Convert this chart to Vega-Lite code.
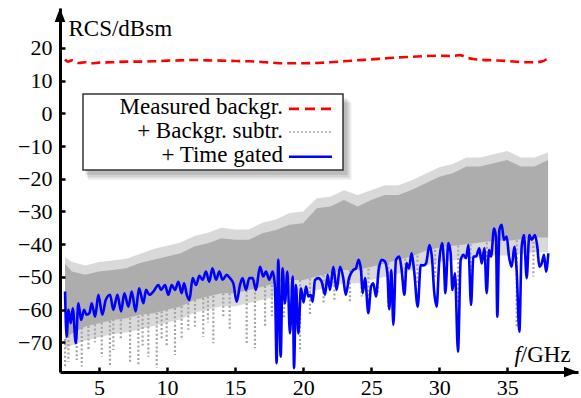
{
  "$schema": "https://vega.github.io/schema/vega-lite/v6.json",
  "width": 518,
  "height": 364,
  "autosize": {"type": "none"},
  "padding": {"left": 60, "top": 8, "right": 3, "bottom": 26},
  "background": "white",
  "config": {"view": {"stroke": null}, "font": "'Liberation Serif', 'Times New Roman', 'DejaVu Serif', serif"},
  "datasets": {
    "band": [
      {"f": 2.5, "top": -44, "hi": -46, "lo": -69, "bot": -72},
      {"f": 3, "top": -45.5, "hi": -48.4, "lo": -67.3, "bot": -71},
      {"f": 4, "top": -46.5, "hi": -49.4, "lo": -65.2, "bot": -69.5},
      {"f": 5, "top": -45.5, "hi": -48.4, "lo": -64.2, "bot": -68.5},
      {"f": 6, "top": -45, "hi": -47.9, "lo": -63.2, "bot": -67.5},
      {"f": 7, "top": -44.5, "hi": -47.4, "lo": -62.7, "bot": -67},
      {"f": 8, "top": -43, "hi": -45.8, "lo": -61.6, "bot": -66},
      {"f": 9, "top": -41.5, "hi": -44.8, "lo": -61.1, "bot": -65},
      {"f": 10, "top": -40.5, "hi": -43.8, "lo": -60.1, "bot": -64},
      {"f": 11, "top": -39.5, "hi": -42.8, "lo": -59.1, "bot": -63},
      {"f": 12, "top": -37.5, "hi": -40.7, "lo": -57.1, "bot": -61},
      {"f": 13, "top": -36.5, "hi": -39.7, "lo": -56, "bot": -60},
      {"f": 14, "top": -35, "hi": -38.2, "lo": -55, "bot": -59},
      {"f": 15, "top": -35.5, "hi": -38.7, "lo": -55, "bot": -59},
      {"f": 16, "top": -35.5, "hi": -38.7, "lo": -54, "bot": -58},
      {"f": 17, "top": -33.5, "hi": -36.7, "lo": -53, "bot": -57},
      {"f": 18, "top": -32.5, "hi": -35.7, "lo": -52, "bot": -56},
      {"f": 19, "top": -30.5, "hi": -34.1, "lo": -51, "bot": -55},
      {"f": 20, "top": -30, "hi": -33.6, "lo": -51, "bot": -55},
      {"f": 21, "top": -26, "hi": -29, "lo": -49.9, "bot": -54},
      {"f": 22, "top": -25.5, "hi": -28.5, "lo": -48.9, "bot": -53},
      {"f": 23, "top": -23.5, "hi": -26.5, "lo": -47.9, "bot": -52},
      {"f": 24, "top": -25, "hi": -28.5, "lo": -47.9, "bot": -52},
      {"f": 25, "top": -23.5, "hi": -26.5, "lo": -46.9, "bot": -51},
      {"f": 26, "top": -22, "hi": -25, "lo": -45.9, "bot": -50},
      {"f": 27, "top": -22, "hi": -25, "lo": -44.8, "bot": -49},
      {"f": 28, "top": -20.5, "hi": -23.4, "lo": -43.8, "bot": -48},
      {"f": 29, "top": -18.5, "hi": -21.4, "lo": -42, "bot": -46.5},
      {"f": 30, "top": -16.5, "hi": -19.4, "lo": -41, "bot": -45.5},
      {"f": 31, "top": -15.5, "hi": -18.3, "lo": -40.5, "bot": -45},
      {"f": 32, "top": -13.5, "hi": -16.3, "lo": -40, "bot": -44.5},
      {"f": 33, "top": -13.5, "hi": -16.3, "lo": -39.5, "bot": -44},
      {"f": 34, "top": -12.5, "hi": -15.3, "lo": -39, "bot": -43.5},
      {"f": 35, "top": -11.5, "hi": -14.3, "lo": -39, "bot": -43.5},
      {"f": 36, "top": -13.5, "hi": -16.3, "lo": -38.5, "bot": -43},
      {"f": 37, "top": -13.5, "hi": -16.3, "lo": -38, "bot": -42.5},
      {"f": 38, "top": -12, "hi": -14.3, "lo": -38, "bot": -42.5}
    ],
    "spikes": [
      {"f": 2.5, "from": -69, "to": -77.5},
      {"f": 2.75, "from": -68, "to": -76},
      {"f": 3.36, "from": -66, "to": -75.4},
      {"f": 3.73, "from": -65.5, "to": -77.4},
      {"f": 4.22, "from": -65, "to": -72.4},
      {"f": 4.7, "from": -64.5, "to": -70},
      {"f": 5.2, "from": -64, "to": -74.4},
      {"f": 5.8, "from": -63.5, "to": -77},
      {"f": 6.05, "from": -63, "to": -72.4},
      {"f": 6.6, "from": -63, "to": -69},
      {"f": 7.28, "from": -62.5, "to": -76.4},
      {"f": 7.89, "from": -62, "to": -77.4},
      {"f": 8.2, "from": -61.5, "to": -71},
      {"f": 8.62, "from": -61.3, "to": -74.4},
      {"f": 9.24, "from": -61, "to": -77.9},
      {"f": 9.6, "from": -60.5, "to": -69},
      {"f": 9.97, "from": -60, "to": -71.3},
      {"f": 10.58, "from": -59.5, "to": -73.9},
      {"f": 11.07, "from": -59, "to": -69.3},
      {"f": 11.56, "from": -58, "to": -66.2},
      {"f": 12.05, "from": -57, "to": -65.2},
      {"f": 12.66, "from": -56.5, "to": -68.3},
      {"f": 13.0, "from": -56, "to": -64},
      {"f": 13.4, "from": -55.8, "to": -70.3},
      {"f": 14.13, "from": -55, "to": -62.7},
      {"f": 14.6, "from": -55, "to": -66},
      {"f": 15.85, "from": -54.2, "to": -70.8},
      {"f": 16.46, "from": -53.5, "to": -71.8},
      {"f": 17.2, "from": -52.8, "to": -65.2},
      {"f": 17.7, "from": -52.5, "to": -62},
      {"f": 18.05, "from": -52, "to": -67.3},
      {"f": 18.6, "from": -51.5, "to": -63},
      {"f": 19.77, "from": -51, "to": -72.9},
      {"f": 20.5, "from": -50.5, "to": -62},
      {"f": 21.5, "from": -49.5, "to": -58},
      {"f": 22.3, "from": -48.7, "to": -57},
      {"f": 23.44, "from": -47.9, "to": -58.1},
      {"f": 24.3, "from": -47.9, "to": -56},
      {"f": 24.8, "from": -47.5, "to": -60.1},
      {"f": 25.5, "from": -46.5, "to": -55},
      {"f": 26.26, "from": -45.7, "to": -59.1},
      {"f": 27.5, "from": -44.5, "to": -53},
      {"f": 28.4, "from": -43.5, "to": -52},
      {"f": 29.7, "from": -41.8, "to": -50},
      {"f": 31.4, "from": -40.4, "to": -58.1},
      {"f": 32.3, "from": -40, "to": -48},
      {"f": 33.5, "from": -39.5, "to": -47},
      {"f": 34.27, "from": -39, "to": -61.1},
      {"f": 35.69, "from": -38.8, "to": -65.2},
      {"f": 36.92, "from": -38, "to": -49.9}
    ],
    "gated": [
      {"f": 2.5, "db": -54.5}, {"f": 2.62, "db": -68.3}, {"f": 2.75, "db": -60.1}, {"f": 2.92, "db": -64.2},
      {"f": 3.07, "db": -59.6}, {"f": 3.29, "db": -70.3}, {"f": 3.48, "db": -58.1}, {"f": 3.68, "db": -63.2},
      {"f": 3.9, "db": -60.1}, {"f": 4.09, "db": -61.6}, {"f": 4.29, "db": -61.1}, {"f": 4.46, "db": -58.1},
      {"f": 4.71, "db": -62.2}, {"f": 4.95, "db": -55.5}, {"f": 5.24, "db": -61.6}, {"f": 5.49, "db": -57.1},
      {"f": 5.81, "db": -55.5}, {"f": 6.05, "db": -60.1}, {"f": 6.35, "db": -55.5}, {"f": 6.62, "db": -60.6},
      {"f": 6.86, "db": -55}, {"f": 7.16, "db": -59.1}, {"f": 7.4, "db": -54.5}, {"f": 7.69, "db": -60.6},
      {"f": 7.94, "db": -53.5}, {"f": 8.26, "db": -58.1}, {"f": 8.45, "db": -54}, {"f": 8.7, "db": -55.5},
      {"f": 8.99, "db": -54.5}, {"f": 9.36, "db": -52.5}, {"f": 9.56, "db": -54}, {"f": 9.85, "db": -52.5},
      {"f": 10.09, "db": -55.5}, {"f": 10.34, "db": -52.5}, {"f": 10.58, "db": -54}, {"f": 10.83, "db": -51.5},
      {"f": 11.07, "db": -55}, {"f": 11.25, "db": -52}, {"f": 11.45, "db": -55.5}, {"f": 11.64, "db": -57.1},
      {"f": 11.88, "db": -50.4}, {"f": 12.13, "db": -52.5}, {"f": 12.37, "db": -49.7}, {"f": 12.62, "db": -50.9},
      {"f": 12.86, "db": -48.4}, {"f": 13.1, "db": -51.5}, {"f": 13.33, "db": -47.4}, {"f": 13.6, "db": -50.9},
      {"f": 13.84, "db": -48.4}, {"f": 14.08, "db": -50.9}, {"f": 14.38, "db": -49.4}, {"f": 14.62, "db": -50.4},
      {"f": 14.87, "db": -52}, {"f": 15.11, "db": -57.6}, {"f": 15.36, "db": -52.5}, {"f": 15.55, "db": -50.4},
      {"f": 15.8, "db": -54}, {"f": 16.04, "db": -50.4}, {"f": 16.29, "db": -50.4}, {"f": 16.53, "db": -54},
      {"f": 16.83, "db": -46.9}, {"f": 17.07, "db": -49.9}, {"f": 17.27, "db": -48.4}, {"f": 17.51, "db": -50.9},
      {"f": 17.76, "db": -48.4}, {"f": 17.93, "db": -53}, {"f": 18.05, "db": -76.4}, {"f": 18.17, "db": -44.8},
      {"f": 18.35, "db": -74.4}, {"f": 18.49, "db": -47.4}, {"f": 18.66, "db": -58.1}, {"f": 18.84, "db": -48.4},
      {"f": 19.03, "db": -67.3}, {"f": 19.23, "db": -49.9}, {"f": 19.33, "db": -77.9}, {"f": 19.47, "db": -52.5},
      {"f": 19.65, "db": -67.3}, {"f": 19.84, "db": -53.5}, {"f": 20.03, "db": -57.8}, {"f": 20.21, "db": -53},
      {"f": 20.38, "db": -56}, {"f": 20.55, "db": -55.5}, {"f": 20.7, "db": -57.6}, {"f": 20.87, "db": -51},
      {"f": 21.12, "db": -50.4}, {"f": 21.36, "db": -51.5}, {"f": 21.61, "db": -55.5}, {"f": 21.8, "db": -49.4},
      {"f": 21.97, "db": -54}, {"f": 22.22, "db": -46.9}, {"f": 22.46, "db": -54}, {"f": 22.71, "db": -46.9},
      {"f": 22.95, "db": -50.4}, {"f": 23.13, "db": -55.5}, {"f": 23.37, "db": -50.4}, {"f": 23.69, "db": -47.9},
      {"f": 23.88, "db": -47.4}, {"f": 24.08, "db": -44.8}, {"f": 24.25, "db": -47.9}, {"f": 24.37, "db": -55},
      {"f": 24.55, "db": -50.4}, {"f": 24.79, "db": -61.1}, {"f": 24.99, "db": -53}, {"f": 25.16, "db": -52},
      {"f": 25.35, "db": -56}, {"f": 25.55, "db": -47.9}, {"f": 25.77, "db": -44.8}, {"f": 26.01, "db": -45.3},
      {"f": 26.19, "db": -48.9}, {"f": 26.33, "db": -59.9}, {"f": 26.48, "db": -47.9}, {"f": 26.63, "db": -64.7},
      {"f": 26.82, "db": -44.8}, {"f": 27.07, "db": -43.8}, {"f": 27.24, "db": -47.9}, {"f": 27.44, "db": -55.5},
      {"f": 27.61, "db": -45.8}, {"f": 27.78, "db": -47.4}, {"f": 27.97, "db": -42.8}, {"f": 28.15, "db": -47.9},
      {"f": 28.42, "db": -59.1}, {"f": 28.64, "db": -46.4}, {"f": 28.84, "db": -46.5}, {"f": 29.03, "db": -45.9},
      {"f": 29.28, "db": -40.3}, {"f": 29.47, "db": -44.3}, {"f": 29.62, "db": -54}, {"f": 29.81, "db": -59.1},
      {"f": 29.99, "db": -45.9}, {"f": 30.21, "db": -39.7}, {"f": 30.35, "db": -45.9}, {"f": 30.45, "db": -55},
      {"f": 30.67, "db": -39.7}, {"f": 30.84, "db": -42.8}, {"f": 30.97, "db": -54}, {"f": 31.16, "db": -48.9},
      {"f": 31.38, "db": -72.9}, {"f": 31.58, "db": -44.8}, {"f": 31.77, "db": -43.3}, {"f": 31.97, "db": -44.3},
      {"f": 32.14, "db": -40.3}, {"f": 32.34, "db": -58.6}, {"f": 32.51, "db": -43.8}, {"f": 32.7, "db": -43.8},
      {"f": 32.95, "db": -41.3}, {"f": 33.12, "db": -45.9}, {"f": 33.32, "db": -41.3}, {"f": 33.49, "db": -55},
      {"f": 33.66, "db": -41.8}, {"f": 33.81, "db": -43.8}, {"f": 34.03, "db": -35.2}, {"f": 34.17, "db": -37.7},
      {"f": 34.27, "db": -62.2}, {"f": 34.42, "db": -35.7}, {"f": 34.59, "db": -34.1}, {"f": 34.76, "db": -38.7},
      {"f": 34.96, "db": -37.7}, {"f": 35.13, "db": -43.8}, {"f": 35.33, "db": -46.9}, {"f": 35.52, "db": -40.8},
      {"f": 35.69, "db": -47.9}, {"f": 35.89, "db": -66.8}, {"f": 36.06, "db": -40.8}, {"f": 36.23, "db": -37.2},
      {"f": 36.43, "db": -50.4}, {"f": 36.62, "db": -37.2}, {"f": 36.79, "db": -38.7}, {"f": 37.04, "db": -37.2},
      {"f": 37.21, "db": -40.8}, {"f": 37.36, "db": -46.9}, {"f": 37.53, "db": -45.9}, {"f": 37.7, "db": -43.3},
      {"f": 37.85, "db": -48.4}, {"f": 38.02, "db": -42.8}
    ],
    "background": [
      {"f": 2.5, "db": 16.5}, {"f": 2.7, "db": 15.8}, {"f": 3.0, "db": 16.2}, {"f": 3.5, "db": 15.4},
      {"f": 4.0, "db": 15.6}, {"f": 4.5, "db": 15.3}, {"f": 5, "db": 15.5}, {"f": 6, "db": 15.6},
      {"f": 7, "db": 15.8}, {"f": 8, "db": 15.8}, {"f": 9, "db": 15.9}, {"f": 10, "db": 16.1},
      {"f": 11, "db": 16.2}, {"f": 12, "db": 16.3}, {"f": 13, "db": 16.2}, {"f": 14, "db": 16.1},
      {"f": 15, "db": 16.0}, {"f": 16, "db": 15.9}, {"f": 17, "db": 15.7}, {"f": 18, "db": 15.4},
      {"f": 19, "db": 15.3}, {"f": 20, "db": 15.3}, {"f": 21, "db": 15.4}, {"f": 22, "db": 15.6},
      {"f": 23, "db": 15.9}, {"f": 24, "db": 16.2}, {"f": 25, "db": 16.5}, {"f": 26, "db": 16.8},
      {"f": 27, "db": 17.1}, {"f": 28, "db": 17.3}, {"f": 29, "db": 17.5}, {"f": 30, "db": 17.6},
      {"f": 31, "db": 17.5}, {"f": 31.5, "db": 17.8}, {"f": 32, "db": 17.1}, {"f": 32.5, "db": 16.6},
      {"f": 33, "db": 16.4}, {"f": 34, "db": 16.2}, {"f": 35, "db": 16.0}, {"f": 36, "db": 15.7},
      {"f": 37, "db": 15.6}, {"f": 37.5, "db": 15.8}, {"f": 38, "db": 16.8}
    ],
    "one": [{}]
  },
  "layer": [
    {
      "data": {"name": "band"},
      "mark": {"type": "area", "color": "#cccccc", "opacity": 0.75},
      "encoding": {
        "x": {
          "field": "f", "type": "quantitative",
          "scale": {"domain": [2.13, 40.2], "nice": false, "zero": false},
          "axis": {
            "values": [5, 10, 15, 20, 25, 30, 35], "title": null, "grid": false, "zindex": 1,
            "domainColor": "black", "domainWidth": 3, "tickColor": "black", "tickWidth": 2.5,
            "tickSize": -5, "labelPadding": 10, "labelFont": "'Liberation Serif', 'Times New Roman', 'DejaVu Serif', serif", "labelFontSize": 22,
            "labelColor": "black", "labelFlush": false
          }
        },
        "y": {
          "field": "top", "type": "quantitative",
          "scale": {"domain": [-79.1, 32.2], "nice": false, "zero": false},
          "axis": {
            "values": [-70, -60, -50, -40, -30, -20, -10, 0, 10, 20], "grid": false, "zindex": 1,
            "domainColor": "black", "domainWidth": 3, "tickColor": "black", "tickWidth": 2.5,
            "tickSize": -5, "labelPadding": 13, "labelFont": "'Liberation Serif', 'Times New Roman', 'DejaVu Serif', serif", "labelFontSize": 22,
            "labelColor": "black", "labelFlush": false,
            "title": "RCS/dBsm", "titleAngle": 0, "titleAlign": "left", "titleBaseline": "alphabetic",
            "titleX": 8, "titleY": 27, "titleFont": "'Liberation Serif', 'Times New Roman', 'DejaVu Serif', serif", "titleFontSize": 23,
            "titleFontWeight": "normal", "titleColor": "black"
          }
        },
        "y2": {"field": "bot"}
      }
    },
    {
      "data": {"name": "band"},
      "mark": {"type": "area", "color": "#adadad"},
      "encoding": {
        "x": {"field": "f", "type": "quantitative"},
        "y": {"field": "hi", "type": "quantitative"},
        "y2": {"field": "lo"}
      }
    },
    {
      "data": {"name": "spikes"},
      "mark": {"type": "rule", "color": "#a4a4a4", "strokeWidth": 2.2, "strokeDash": [2, 2.2]},
      "encoding": {
        "x": {"field": "f", "type": "quantitative"},
        "y": {"field": "from", "type": "quantitative"},
        "y2": {"field": "to"}
      }
    },
    {
      "data": {"name": "gated"},
      "mark": {"type": "line", "color": "#0000ff", "strokeWidth": 2.6, "interpolate": "monotone"},
      "encoding": {
        "x": {"field": "f", "type": "quantitative"},
        "y": {"field": "db", "type": "quantitative"}
      }
    },
    {
      "data": {"name": "background"},
      "mark": {"type": "line", "color": "#ff0000", "strokeWidth": 2.6, "strokeDash": [9, 5], "interpolate": "monotone"},
      "encoding": {
        "x": {"field": "f", "type": "quantitative"},
        "y": {"field": "db", "type": "quantitative"}
      }
    },
    {
      "data": {"name": "one"},
      "mark": {"type": "rect", "color": "black", "opacity": 0.1},
      "encoding": {
        "x": {"datum": 4.0, "type": "quantitative"}, "x2": {"datum": 23.25},
        "y": {"datum": 4.6, "type": "quantitative"}, "y2": {"datum": -18.9}
      }
    },
    {
      "data": {"name": "one"},
      "mark": {"type": "rect", "color": "black", "opacity": 0.1},
      "encoding": {
        "x": {"datum": 4.1, "type": "quantitative"}, "x2": {"datum": 23.4},
        "y": {"datum": 3.9, "type": "quantitative"}, "y2": {"datum": -19.6}
      }
    },
    {
      "data": {"name": "one"},
      "mark": {"type": "rect", "color": "black", "opacity": 0.08},
      "encoding": {
        "x": {"datum": 4.2, "type": "quantitative"}, "x2": {"datum": 23.55},
        "y": {"datum": 3.2, "type": "quantitative"}, "y2": {"datum": -20.3}
      }
    },
    {
      "data": {"name": "one"},
      "mark": {"type": "rect", "fill": "white", "stroke": "#333333", "strokeWidth": 1.5, "opacity": 1},
      "encoding": {
        "x": {"datum": 3.82, "type": "quantitative"}, "x2": {"datum": 22.93},
        "y": {"datum": 5.93, "type": "quantitative"}, "y2": {"datum": -17.3}
      }
    },
    {
      "data": {"name": "one"},
      "mark": {"type": "text", "text": "Measured backgr.", "align": "right", "baseline": "alphabetic", "font": "'Liberation Serif', 'Times New Roman', 'DejaVu Serif', serif", "fontSize": 23, "color": "black"},
      "encoding": {
        "x": {"datum": 18.52, "type": "quantitative"},
        "y": {"datum": -0.2, "type": "quantitative"}
      }
    },
    {
      "data": {"name": "one"},
      "mark": {"type": "text", "text": "+ Backgr. subtr.", "align": "right", "baseline": "alphabetic", "font": "'Liberation Serif', 'Times New Roman', 'DejaVu Serif', serif", "fontSize": 23, "color": "black"},
      "encoding": {
        "x": {"datum": 18.52, "type": "quantitative"},
        "y": {"datum": -7.7, "type": "quantitative"}
      }
    },
    {
      "data": {"name": "one"},
      "mark": {"type": "text", "text": "+ Time gated", "align": "right", "baseline": "alphabetic", "font": "'Liberation Serif', 'Times New Roman', 'DejaVu Serif', serif", "fontSize": 23, "color": "black"},
      "encoding": {
        "x": {"datum": 18.52, "type": "quantitative"},
        "y": {"datum": -14.9, "type": "quantitative"}
      }
    },
    {
      "data": {"name": "one"},
      "mark": {"type": "rule", "color": "#ff0000", "strokeWidth": 2.6, "strokeDash": [10, 6]},
      "encoding": {
        "x": {"datum": 18.96, "type": "quantitative"}, "x2": {"datum": 22.12},
        "y": {"datum": 1.35, "type": "quantitative"}
      }
    },
    {
      "data": {"name": "one"},
      "mark": {"type": "rule", "color": "#aaaaaa", "strokeWidth": 1.6, "strokeDash": [2, 2]},
      "encoding": {
        "x": {"datum": 18.96, "type": "quantitative"}, "x2": {"datum": 22.12},
        "y": {"datum": -5.7, "type": "quantitative"}
      }
    },
    {
      "data": {"name": "one"},
      "mark": {"type": "rule", "color": "#0000ff", "strokeWidth": 2.4},
      "encoding": {
        "x": {"datum": 18.96, "type": "quantitative"}, "x2": {"datum": 22.12},
        "y": {"datum": -13.3, "type": "quantitative"}
      }
    },
    {
      "data": {"name": "one"},
      "mark": {"type": "point", "shape": "M0,0L-0.38,1L0.38,1Z", "filled": true, "color": "black", "opacity": 1, "size": 784, "clip": false},
      "encoding": {
        "x": {"datum": 2.13, "type": "quantitative"},
        "y": {"datum": 32.2, "type": "quantitative"}
      }
    },
    {
      "data": {"name": "one"},
      "mark": {"type": "point", "shape": "M0,0L-1,-0.38L-1,0.38Z", "filled": true, "color": "black", "opacity": 1, "size": 784, "clip": false},
      "encoding": {
        "x": {"datum": 40.2, "type": "quantitative"},
        "y": {"datum": -79.1, "type": "quantitative"}
      }
    },
    {
      "data": {"name": "one"},
      "mark": {"type": "text", "text": "f", "align": "right", "baseline": "alphabetic", "font": "'Liberation Serif', 'Times New Roman', 'DejaVu Serif', serif", "fontStyle": "italic", "fontSize": 23, "color": "black"},
      "encoding": {
        "x": {"datum": 36.0, "type": "quantitative"},
        "y": {"datum": -76.0, "type": "quantitative"}
      }
    },
    {
      "data": {"name": "one"},
      "mark": {"type": "text", "text": "/GHz", "align": "left", "baseline": "alphabetic", "font": "'Liberation Serif', 'Times New Roman', 'DejaVu Serif', serif", "fontSize": 23, "color": "black"},
      "encoding": {
        "x": {"datum": 36.0, "type": "quantitative"},
        "y": {"datum": -76.0, "type": "quantitative"}
      }
    }
  ]
}
